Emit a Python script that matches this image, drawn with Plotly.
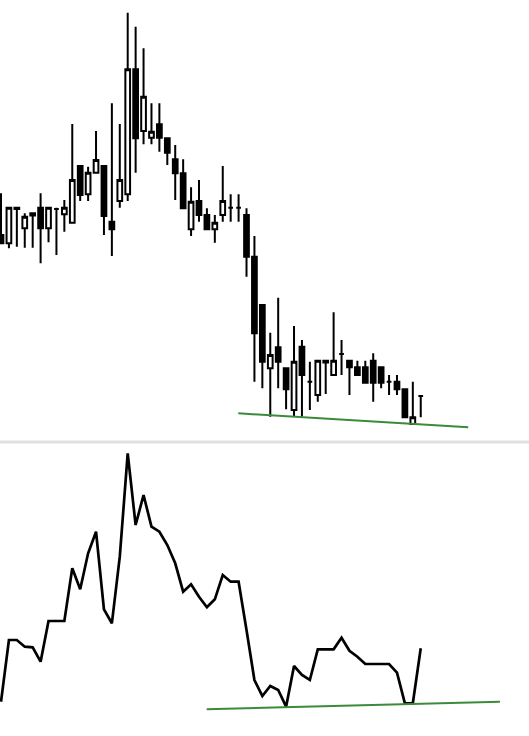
import plotly.graph_objects as go

# candle index
idx = list(range(54))

opens = [21.5, 20.67, 24.1, 22.17, 23.45, 24.23, 22.17, 24.1, 23.57, 22.73,
         28.4, 25.57, 27.73, 28.4, 22.83, 24.9, 25.57, 38.07, 31.9, 31.23,
         32.57, 31.17, 29.07, 27.67, 22.07, 24.9, 23.5, 22.07, 23.5, 24.23,
         24.23, 23.5, 19.33, 14.5, 8.17, 10.27, 8.17, 4.0, 10.33, 6.83,
         5.5, 8.75, 7.5, 9.6, 8.93, 8.27, 8.27, 8.93, 8.27, 6.83,
         6.83, 6.07, 2.6, 5.4]
closes = [20.67, 24.23, 24.23, 23.33, 23.67, 22.17, 24.23, 24.1, 24.23, 27.0,
          25.5, 27.73, 29.0, 23.4, 22.07, 27.0, 38.07, 31.17, 35.33, 31.83,
          31.23, 29.73, 27.67, 24.17, 24.83, 23.5, 22.07, 22.73, 24.9, 24.23,
          24.23, 19.33, 11.67, 8.83, 9.5, 8.83, 6.07, 8.83, 7.5, 6.83,
          8.93, 8.93, 8.93, 9.6, 8.27, 7.5, 6.73, 6.73, 6.73, 6.83,
          6.07, 3.27, 3.27, 5.4]
highs = [25.67, 24.23, 24.23, 23.67, 23.67, 25.67, 24.23, 24.23, 25.0, 32.6,
         28.4, 28.33, 31.9, 28.4, 34.67, 32.6, 43.73, 42.33, 40.17, 34.67,
         34.67, 31.17, 30.5, 29.07, 26.27, 27.0, 24.17, 23.5, 28.4, 25.57,
         25.57, 24.17, 21.4, 14.5, 11.73, 15.23, 8.17, 12.4, 11.0, 8.83,
         8.93, 8.93, 13.77, 11.0, 8.93, 8.93, 8.93, 9.67, 8.27, 7.5,
         7.5, 6.07, 6.83, 5.4]
lows = [20.67, 20.17, 20.33, 20.23, 20.23, 18.67, 20.77, 19.5, 21.83, 22.73,
        24.9, 24.9, 27.73, 21.5, 19.4, 24.23, 24.9, 27.73, 30.57, 30.57,
        29.83, 28.5, 25.0, 24.17, 21.4, 22.83, 22.07, 20.73, 22.83, 22.83,
        22.83, 17.33, 6.83, 6.17, 3.33, 6.17, 4.07, 3.33, 3.33, 4.0,
        4.83, 5.6, 7.5, 7.5, 5.5, 7.5, 6.73, 4.83, 6.17, 5.5,
        5.5, 3.27, 2.6, 3.27]

# lower panel oscillator
osc = [11.43, 32.0, 32.0, 29.77, 29.57, 24.77, 38.33, 38.33, 38.33, 55.9,
       48.9, 60.9, 68.1, 42.23, 37.57, 59.77, 94.23, 70.33, 80.33, 69.77,
       68.1, 63.67, 57.57, 48.1, 50.57, 46.43, 42.9, 45.57, 53.67, 51.43,
       51.43, 35.33, 18.67, 13.33, 16.67, 15.33, 9.77, 23.33, 20.33, 18.67,
       28.9, 28.9, 28.9, 32.77, 28.43, 26.43, 24.0, 24.0, 24.0, 24.0,
       21.1, 10.9, 10.9, 29.23]

# trendlines (x, y)
price_trend_x = [29.96, 59.0]
price_trend_y = [3.67, 2.27]
osc_trend_x = [25.97, 63.0]
osc_trend_y = [8.9, 11.43]

GREEN = "#3b8b3b"

fig = go.Figure()
fig.add_trace(go.Candlestick(
    x=idx, open=opens, high=highs, low=lows, close=closes,
    increasing=dict(line=dict(color="black", width=2), fillcolor="white"),
    decreasing=dict(line=dict(color="black", width=2), fillcolor="black"),
    whiskerwidth=0, xaxis="x", yaxis="y", showlegend=False, hoverinfo="skip",
))
fig.add_trace(go.Scatter(
    x=price_trend_x, y=price_trend_y, mode="lines",
    line=dict(color=GREEN, width=2), xaxis="x", yaxis="y", showlegend=False,
    hoverinfo="skip",
))
fig.add_trace(go.Scatter(
    x=idx, y=osc, mode="lines",
    line=dict(color="black", width=2.7), xaxis="x", yaxis="y2", showlegend=False,
    hoverinfo="skip",
))
fig.add_trace(go.Scatter(
    x=osc_trend_x, y=osc_trend_y, mode="lines",
    line=dict(color=GREEN, width=2), xaxis="x", yaxis="y2", showlegend=False,
    hoverinfo="skip",
))

fig.update_layout(
    width=529, height=736,
    margin=dict(l=0, r=0, t=0, b=0),
    paper_bgcolor="white", plot_bgcolor="white",
    showlegend=False,
    boxgap=0.15,
    xaxis=dict(range=[-0.126, 66.67], visible=False, showgrid=False,
               zeroline=False, rangeslider=dict(visible=False), anchor="y2"),
    yaxis=dict(domain=[0.40217, 1.0], range=[1, 45], visible=False,
               showgrid=False, zeroline=False),
    yaxis2=dict(domain=[0.0, 0.3981], range=[0, 97.67], visible=False,
                showgrid=False, zeroline=False),
    shapes=[dict(type="line", xref="paper", yref="paper", x0=0, x1=1,
                 y0=0.3995, y1=0.3995, line=dict(color="#e0e0e0", width=3))],
)

fig.write_html("out.html", config={"displayModeBar": False},
               post_script="document.body.style.margin='0';document.body.style.overflow='hidden';")
